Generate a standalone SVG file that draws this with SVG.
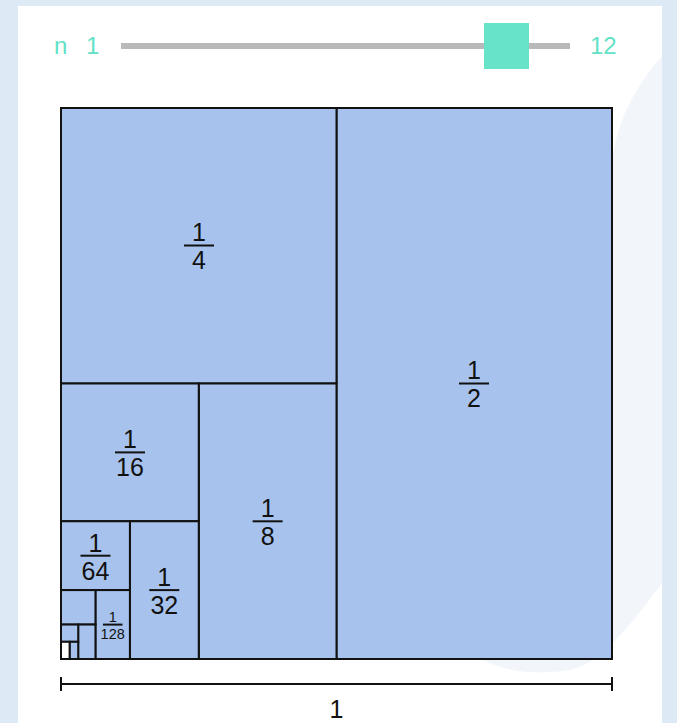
<svg xmlns="http://www.w3.org/2000/svg" width="677" height="723" viewBox="0 0 677 723">
<defs>
<style>
.piece{fill:#a7c3ed;stroke:#111;stroke-width:2}
.rem{fill:#ffffff;stroke:#111;stroke-width:2}
.num{font-family:"Liberation Sans",Arial,sans-serif;font-size:25px;fill:#111;text-anchor:middle}
.sm{font-size:14.5px}
.bar{stroke:#111;stroke-width:2}
.sl{font-family:"Liberation Sans",Arial,sans-serif;font-size:24px;fill:#62e2c6}
</style>
<clipPath id="panelClip"><rect x="18" y="6" width="644" height="717"/></clipPath>
</defs>
<rect x="0" y="0" width="677" height="723" fill="#dde9f5"/>
<rect x="18" y="6" width="644" height="717" fill="#ffffff"/>
<path clip-path="url(#panelClip)" d="M700 20 L690 30 C650 60 620 110 614 150 L440 620 C470 668 520 678 570 670 C610 660 640 610 680 560 L700 540 Z" fill="#f2f6fb"/>

<g id="slider">
<line x1="121" y1="46" x2="570" y2="46" stroke="#b9b9b9" stroke-width="6"/>
<rect x="484" y="23" width="45" height="46" fill="#66e3c9"/>
<text class="sl" x="54" y="54">n</text>
<text class="sl" x="86" y="54">1</text>
<text class="sl" x="590" y="54">12</text>
</g>

<g id="p1"><rect class="piece" x="336.5" y="108" width="275.5" height="551"/>
<text class="num" x="474" y="379">1</text><line class="bar" x1="459" y1="383.5" x2="489" y2="383.5"/><text class="num" x="474" y="407">2</text></g>
<g id="p2"><rect class="piece" x="61" y="108" width="275.5" height="275.5"/>
<text class="num" x="199" y="241">1</text><line class="bar" x1="184" y1="245.5" x2="214" y2="245.5"/><text class="num" x="199" y="269">4</text></g>
<g id="p3"><rect class="piece" x="198.75" y="383.5" width="137.75" height="275.5"/>
<text class="num" x="267.6" y="517">1</text><line class="bar" x1="252.6" y1="521.3" x2="282.6" y2="521.3"/><text class="num" x="267.6" y="545">8</text></g>
<g id="p4"><rect class="piece" x="61" y="383.5" width="137.75" height="137.75"/>
<text class="num" x="130" y="448">1</text><line class="bar" x1="115" y1="452.4" x2="145" y2="452.4"/><text class="num" x="130" y="476">16</text></g>
<g id="p5"><rect class="piece" x="129.9" y="521.25" width="68.85" height="137.75"/>
<text class="num" x="164.3" y="586">1</text><line class="bar" x1="149.3" y1="590.1" x2="179.3" y2="590.1"/><text class="num" x="164.3" y="614">32</text></g>
<g id="p6"><rect class="piece" x="61" y="521.25" width="68.9" height="68.85"/>
<text class="num" x="95.5" y="551.5">1</text><line class="bar" x1="80.5" y1="555.7" x2="110.5" y2="555.7"/><text class="num" x="95.5" y="579.5">64</text></g>
<g id="p7"><rect class="piece" x="95.45" y="590.1" width="34.45" height="68.9"/>
<text class="num sm" x="112.7" y="622">1</text><line class="bar" x1="103" y1="624.6" x2="122.5" y2="624.6" stroke-width="1.3"/><text class="num sm" x="112.7" y="639">128</text></g>
<g id="p8"><rect class="piece" x="61" y="590.1" width="34.45" height="34.45"/></g>
<g id="p9"><rect class="piece" x="78.2" y="624.55" width="17.25" height="34.45"/></g>
<g id="p10"><rect class="piece" x="61" y="624.55" width="17.2" height="17.25"/></g>
<g id="p11"><rect class="piece" x="69.6" y="641.8" width="8.6" height="17.2"/></g>
<g id="rest"><rect class="rem" x="61" y="641.8" width="8.6" height="17.2"/></g>

<g id="scale">
<line class="bar" x1="61" y1="684" x2="612" y2="684"/>
<line class="bar" x1="61" y1="677" x2="61" y2="691"/>
<line class="bar" x1="612" y1="677" x2="612" y2="691"/>
<text class="num" x="336.5" y="718">1</text>
</g>
</svg>
